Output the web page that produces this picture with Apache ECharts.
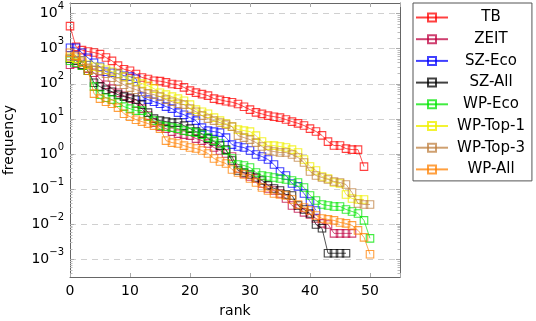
<!DOCTYPE html>
<html><head><meta charset="utf-8">
<script src="https://cdn.jsdelivr.net/npm/echarts@6/dist/echarts.min.js"></script>
<style>html,body{margin:0;padding:0;background:#fff}#c{width:536px;height:321px}</style>
</head><body><div id="c"></div>
<script>
// ---- data (frequency by rank, rank = index) ----
const seriesNames = ['TB','ZEIT','SZ-Eco','SZ-All','WP-Eco','WP-Top-1','WP-Top-3','WP-All'];
const TB = [4400,1130,910,830,780,700,560,450,330,260,236,190,152,137,122,119,110,99,94,79,64,56,51,46,38,35,32,30,26.7,22.3,18.4,15.4,13.9,12.4,11.6,10.9,9.6,8.4,7.5,6.5,5.3,4.4,3.4,2.26,1.75,1.75,1.43,1.34,1.34,0.44];
const ZEIT = [349,372,327,269,207,140,94,73,55.9,45.9,37.8,27.2,19.6,12.4,7.85,6.05,5.31,4.36,3.82,3.58,3.35,2.76,2.42,1.99,1.53,1.26,1.036,0.852,0.388,0.279,0.230,0.202,0.1455,0.105,0.0918,0.0755,0.0544,0.0344,0.0283,0.0218,0.0191,0.0147,0.0106,0.0099,0.00552,0.00552,0.00552,0.00552];
const SZ_Eco = [1060,1060,764,551,397,306,221,207,194,170,160,140,43.1,35.4,31.0,27.2,22.4,19.6,15.1,13.2,10.9,8.95,5.67,4.65,4.36,4.08,2.94,1.86,1.64,1.53,1.26,0.970,0.852,0.699,0.504,0.319,0.245,0.1455,0.120,0.0755,0.0447,0.0248];
const SZ_All = [517,453,349,236,107,83,68,59.7,49.1,43.1,40.3,35.4,25.5,15.1,10.2,8.95,8.39,7.85,7.85,6.45,5.31,4.36,3.82,2.76,2.27,1.74,1.34,0.654,0.340,0.298,0.262,0.215,0.177,0.128,0.105,0.0918,0.0707,0.0662,0.0344,0.0265,0.0204,0.0099,0.0077,0.0015,0.0015,0.0015,0.0015];
const WP_Eco = [453,397,327,236,83,49.1,40.3,35.4,29.0,22.4,19.6,17.2,17.2,11.6,8.95,6.45,6.05,5.67,5.31,4.65,4.36,4.08,3.58,2.94,2.42,1.99,1.26,0.747,0.504,0.472,0.414,0.298,0.245,0.230,0.215,0.202,0.189,0.177,0.155,0.112,0.0662,0.0477,0.0367,0.0344,0.0322,0.0322,0.0265,0.0232,0.0204,0.0129,0.00398];
const WP_Top1 = [551,517,453,349,306,287,251,221,194,160,131,115,101,88,73,55.9,49.1,43.1,37.8,33.1,25.5,18.4,16.1,14.1,10.9,8.95,7.36,6.05,4.97,4.65,4.36,3.35,2.27,1.74,1.74,1.64,1.53,1.34,1.105,0.699,0.442,0.340,0.230,0.202,0.155,0.1455,0.0707,0.0544,0.0510,0.0510];
const WP_Top3 = [628,589,453,287,251,236,194,149,115,94,78,68,59.7,52.4,49.1,43.1,35.4,31.0,27.2,25.5,19.6,16.1,12.4,10.2,8.95,7.85,6.89,6.05,3.35,2.94,2.58,2.12,1.64,1.26,1.18,1.105,1.105,0.970,0.798,0.574,0.319,0.245,0.215,0.189,0.166,0.155,0.136,0.0805,0.0392,0.0367,0.0367];
const WP_All = [764,628,397,236,52.4,37.8,31.0,27.2,21.0,14.1,11.6,9.5,8.39,7.36,6.45,5.31,2.42,2.12,1.99,1.74,1.53,1.44,1.26,1.036,0.747,0.613,0.538,0.363,0.298,0.262,0.202,0.155,0.112,0.0918,0.0755,0.0707,0.0662,0.0510,0.0367,0.0302,0.0248,0.0179,0.0147,0.0138,0.0129,0.0113,0.0106,0.0093,0.00671,0.00425,0.00140];
const xTickLabels = [0,10,20,30,40,50];
const yTickExponents = [-3,-2,-1,0,1,2,3,4];

// ---- styling ----
const colors = ['rgba(255,0,0,0.75)','rgba(191,0,64,0.75)','rgba(0,0,255,0.75)','rgba(0,0,0,0.75)',
                'rgba(0,230,0,0.75)','rgba(240,240,0,0.8)','rgba(191,128,64,0.75)','rgba(255,128,0,0.75)'];
const allData = [TB, ZEIT, SZ_Eco, SZ_All, WP_Eco, WP_Top1, WP_Top3, WP_All];
const FONT = 'DejaVu Sans';
const Y_MIN = 0.000316, Y_MAX = 20000;

const minorVals = [];
for (let k = -4; k <= 4; k++) for (let m = 2; m <= 9; m++) {
  const v = m * Math.pow(10, k);
  if (v > Y_MIN && v < Y_MAX) minorVals.push(v);
}
const majorVals = yTickExponents.map(e => Math.pow(10, e));
function yFmt(v) {
  const l = Math.log10(v), k = Math.round(l);
  if (Math.abs(l - k) > 0.01 || yTickExponents.indexOf(k) < 0) return '';
  const s = String(k).replace('-', '\u2212');
  return '{b|10}{s|' + s + '}';
}

const series = allData.map((arr, i) => ({
  name: seriesNames[i], type: 'line', yAxisIndex: 0, xAxisIndex: 0,
  data: arr.map((v, r) => [r, v]),
  symbol: 'rect', symbolSize: 7.5,
  lineStyle: { color: colors[i], width: 0.9 },
  itemStyle: { color: 'rgba(0,0,0,0)', borderColor: colors[i], borderWidth: 1.1 },
  emphasis: { disabled: true }, animation: false, z: 3 + i
}));

const baseY = { type: 'log', min: Y_MIN, max: Y_MAX, logBase: 10 };

const option = {
  animation: false,
  backgroundColor: '#fff',
  textStyle: { fontFamily: FONT },
  grid: { left: 70, right: 136, top: 3, bottom: 44, show: false, containLabel: false, outerBoundsMode: 'none' },
  xAxis: [
    { type: 'value', min: 0, max: 55, interval: 10, position: 'bottom',
      name: 'rank', nameLocation: 'middle', nameGap: 27,
      nameTextStyle: { fontFamily: FONT, fontSize: 14, color: '#000' },
      axisLine: { show: true, lineStyle: { color: '#666', width: 1 } },
      axisTick: { show: true, inside: true, length: 4, lineStyle: { color: '#aaa' } },
      axisLabel: { fontFamily: FONT, fontSize: 14, color: '#000', margin: 7,
        formatter: v => xTickLabels.indexOf(v) >= 0 ? String(v) : '' },
      splitLine: { show: false } },
    { type: 'value', min: 0, max: 55, interval: 10, position: 'top',
      axisLine: { show: true, lineStyle: { color: '#666', width: 1 } },
      axisTick: { show: true, inside: true, length: 4, lineStyle: { color: '#aaa' } },
      axisLabel: { show: false }, splitLine: { show: false } }
  ],
  yAxis: [
    Object.assign({}, baseY, { position: 'left',
      name: 'frequency', nameLocation: 'middle', nameGap: 54,
      nameTextStyle: { fontFamily: FONT, fontSize: 14, color: '#000' },
      axisLine: { show: true, lineStyle: { color: '#666', width: 1 } },
      axisTick: { show: true, inside: true, length: 4, customValues: majorVals, lineStyle: { color: '#aaa' } },
      axisLabel: { formatter: yFmt, margin: 6, customValues: majorVals,
        rich: { b: { fontFamily: FONT, fontSize: 14, color: '#000', lineHeight: 24, verticalAlign: 'middle' },
                s: { fontFamily: FONT, fontSize: 10, color: '#000', verticalAlign: 'top' } } },
      splitLine: { show: true, lineStyle: { color: '#d0d0d0', width: 1, type: [6, 5] } } }),
    Object.assign({}, baseY, { position: 'left',
      axisLine: { show: false }, axisLabel: { show: false }, splitLine: { show: false },
      axisTick: { show: true, inside: true, length: 2.5, customValues: minorVals, lineStyle: { color: '#bbb' } } }),
    Object.assign({}, baseY, { position: 'right',
      axisLine: { show: true, lineStyle: { color: '#666', width: 1 } },
      axisLabel: { show: false }, splitLine: { show: false },
      axisTick: { show: true, inside: true, length: 4, customValues: majorVals, lineStyle: { color: '#aaa' } } }),
    Object.assign({}, baseY, { position: 'right',
      axisLine: { show: false }, axisLabel: { show: false }, splitLine: { show: false },
      axisTick: { show: true, inside: true, length: 2.5, customValues: minorVals, lineStyle: { color: '#bbb' } } })
  ],
  legend: {
    orient: 'vertical', left: 413, top: 3,
    padding: [7, 7, 4, 2], itemGap: 6.7, itemWidth: 32, itemHeight: 10,
    borderColor: '#555', borderWidth: 1, backgroundColor: '#fff',
    data: seriesNames,
    formatter: '{a|{name}}',
    textStyle: { fontFamily: FONT, fontSize: 15, color: '#000',
      rich: { a: { fontFamily: FONT, fontSize: 15, color: '#000', width: 76, align: 'center' } } }
  },
  series: series
};
const chart = echarts.init(document.getElementById('c'), null, { renderer: 'canvas' });
chart.setOption(option);
</script>
</body></html>
